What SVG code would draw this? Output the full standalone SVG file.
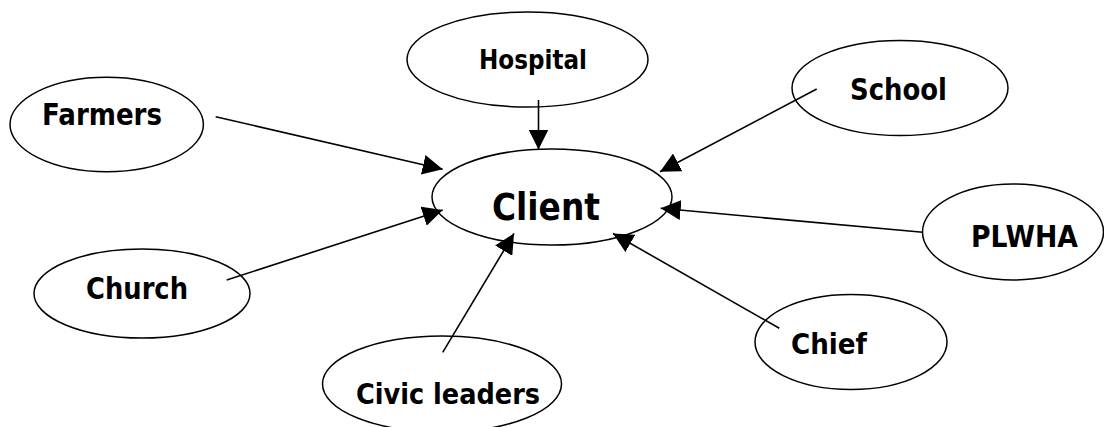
<svg xmlns="http://www.w3.org/2000/svg" width="1104" height="427" viewBox="0 0 1104 427">
<style>
.n ellipse{fill:#fff;stroke:#000;stroke-width:1.5}
.n text{font-family:"DejaVu Sans","Liberation Sans",sans-serif;font-weight:bold;fill:#000}
#edges line{stroke:#000;stroke-width:1.6;fill:none}
</style>
<defs>
<marker id="ah" markerUnits="userSpaceOnUse" markerWidth="21" markerHeight="20" refX="20" refY="10" orient="auto" viewBox="0 0 21 20">
<path d="M0,0 L20,10 L0,20 z" fill="#000"/>
</marker>
</defs>
<g id="client" class="n"><ellipse cx="552" cy="197" rx="120" ry="48"/><text x="492" y="220" font-size="37" textLength="108" lengthAdjust="spacingAndGlyphs">Client</text></g>
<g id="hospital" class="n"><ellipse cx="527.5" cy="59.5" rx="120.5" ry="47.5"/><text x="479" y="69" font-size="27" textLength="108" lengthAdjust="spacingAndGlyphs">Hospital</text></g>
<g id="farmers" class="n"><ellipse cx="106.7" cy="124.5" rx="96.7" ry="47.2"/><text x="42" y="125" font-size="29.5" textLength="120" lengthAdjust="spacingAndGlyphs">Farmers</text></g>
<g id="school" class="n"><ellipse cx="900" cy="88" rx="108" ry="47.5"/><text x="850" y="100" font-size="29.5" textLength="97" lengthAdjust="spacingAndGlyphs">School</text></g>
<g id="plwha" class="n"><ellipse cx="1013" cy="232" rx="90.5" ry="48"/><text x="971" y="246.5" font-size="29.5" textLength="107" lengthAdjust="spacingAndGlyphs">PLWHA</text></g>
<g id="church" class="n"><ellipse cx="142" cy="293.5" rx="108" ry="44.5"/><text x="86" y="299" font-size="29.5" textLength="102" lengthAdjust="spacingAndGlyphs">Church</text></g>
<g id="civic" class="n"><ellipse cx="442" cy="384" rx="119.5" ry="48"/><text x="356" y="404" font-size="29" textLength="184" lengthAdjust="spacingAndGlyphs">Civic leaders</text></g>
<g id="chief" class="n"><ellipse cx="851" cy="342" rx="96" ry="47.5"/><text x="791" y="354" font-size="29" textLength="76" lengthAdjust="spacingAndGlyphs">Chief</text></g>
<g id="edges">
<line x1="538.5" y1="100" x2="538.5" y2="149.5" marker-end="url(#ah)"/>
<line x1="215.7" y1="116.7" x2="442.7" y2="169.3" marker-end="url(#ah)"/>
<line x1="226.7" y1="280" x2="442.7" y2="210" marker-end="url(#ah)"/>
<line x1="816.7" y1="89" x2="660" y2="171.7" marker-end="url(#ah)"/>
<line x1="922.7" y1="232.3" x2="660.7" y2="208.3" marker-end="url(#ah)"/>
<line x1="779.3" y1="328.3" x2="613" y2="233.5" marker-end="url(#ah)"/>
<line x1="442.7" y1="352.3" x2="514" y2="233.5" marker-end="url(#ah)"/>
</g>
</svg>
